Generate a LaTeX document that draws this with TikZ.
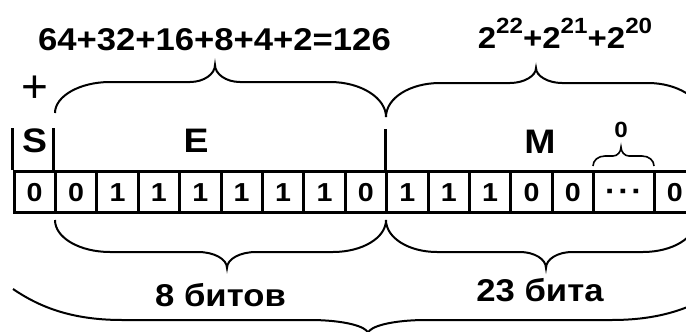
\documentclass[tikz,border=0pt]{standalone}
\usepackage{fontspec}
\setmainfont{Liberation Sans}
\usepackage{graphicx}
\newcommand\hsx[1]{\scalebox{1.1}[1]{#1}}
\newcommand\fsz[1]{\fontsize{#1}{#1}\selectfont}
\begin{document}
\begin{tikzpicture}[x=1pt,y=-1pt,
  cell/.style={draw, line width=3pt, minimum width=41.4pt, minimum height=41pt, inner sep=0pt, text height=18.2pt, text depth=0pt, font=\bfseries\fsz{26}},
  lbl/.style={inner sep=0pt, font=\bfseries\fsz{31.5}},
  brc/.style={line width=2pt},
  bar/.style={line width=3pt}]
\useasboundingbox (0,0) rectangle (686,332);
\clip (0,0) rectangle (686,332);
\fill[white] (0,0) rectangle (686,332);
% cells
\foreach \v [count=\i from 0] in {0,0,1,1,1,1,1,1,0,1,1,1,0,0}
  \node[cell] (c\i) at ({34.7+41.4*\i},192) {\hsx{\v}};
\node[cell, minimum width=60.4pt] (cd) at (623.8,192) {\hsx{\fsz{30}·\hspace{2pt}·\hspace{2pt}·}};
\node[cell] (cl) at (674.7,192) {\hsx{0}};
% bars
\draw[bar] (c0.north west) -- ++(0,-42);
\draw[bar] (c1.north west) -- ++(0,-42);
\draw[bar] (c9.north west) -- ++(0,-41);
% labels
\node[lbl, anchor=base] (t1) at (214.5,50) {\hsx{64+32+16+8+4+2=126}};
\node[lbl, anchor=base, font=\bfseries\fsz{30}] (t2) at (565,48.3) {\hsx{2\raisebox{15pt}{\fsz{22}22}+2\raisebox{15pt}{\fsz{22}21}+2\raisebox{15pt}{\fsz{22}20}}};
\node[inner sep=0pt, font=\fsz{46}] (plus) at (35,89) {+};
\node[lbl, anchor=base, font=\bfseries\fsz{34}] (S) at (34.5,152) {\hsx{S}};
\node[lbl, anchor=base, font=\bfseries\fsz{34}] (E) at (196,152.5) {\hsx{E}};
\node[lbl, anchor=base, font=\bfseries\fsz{34}] (M) at (540,153) {\hsx{M}};
\node[lbl, anchor=base, font=\bfseries\fsz{22}] (z) at (621,137.3) {\hsx{0}};
\node[lbl, anchor=base] (b8) at (220.5,306.5) {\hsx{8 битов}};
\node[lbl, anchor=base] (b23) at (540,301.5) {\hsx{23 бита}};
% braces
\draw[brc] (55,113) .. controls (55,96) and (80,82) .. (110,82) -- (190,82) .. controls (204,82) and (215,74) .. (215,65) .. controls (215,74) and (226,82) .. (240,82) -- (330,82) .. controls (361,82) and (386,98) .. (386,117);
\draw[brc] (386,117) .. controls (386,98) and (410,83) .. (440,83) -- (510,83) .. controls (524,83) and (536,76) .. (536,68) .. controls (536,76) and (548,83) .. (562,83) -- (648,83) .. controls (677,83) and (702,98) .. (702,117);
\draw[brc] (55,220) .. controls (55,238) and (80,252) .. (110,252) -- (198,252) .. controls (214,252) and (227,259) .. (227,268) .. controls (227,259) and (240,252) .. (256,252) -- (333,252) .. controls (362,252) and (386,238) .. (386,220);
\draw[brc] (386,220) .. controls (386,238) and (409,252) .. (437,252) -- (520,252) .. controls (534,252) and (546,259) .. (546,268) .. controls (546,259) and (558,252) .. (572,252) -- (643,252) .. controls (672,252) and (696,238) .. (696,220);
\draw[brc] (13,289) .. controls (38,306) and (70,320) .. (122,320) -- (310,320) .. controls (342,320) and (368,326) .. (368,334) .. controls (368,326) and (394,320) .. (426,320) -- (612,320) .. controls (664,320) and (696,306) .. (721,289);
\draw[line width=1.6pt] (593,166) .. controls (593,160.5) and (598,156) .. (605,156) -- (613,156) .. controls (617.4,156) and (621,152) .. (621,147) .. controls (621,152) and (624.6,156) .. (629,156) -- (642,156) .. controls (649,156) and (654,160.5) .. (654,166);
\end{tikzpicture}
\end{document}
